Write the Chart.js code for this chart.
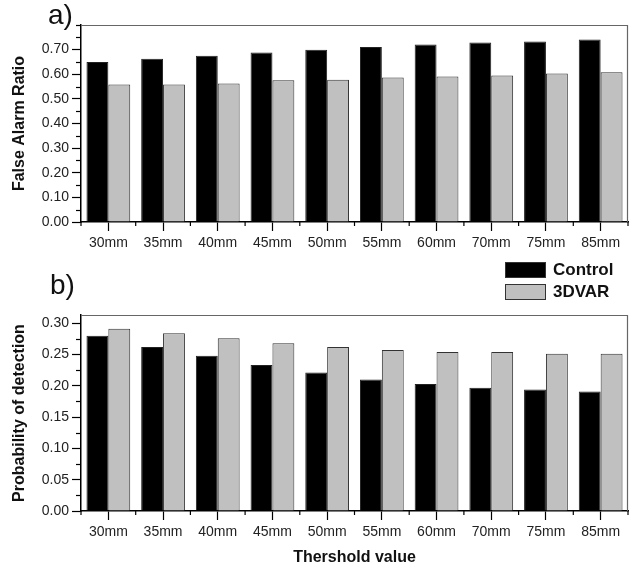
<!DOCTYPE html>
<html>
<head>
<meta charset="utf-8">
<script src="https://cdn.jsdelivr.net/npm/chart.js@4"></script>
<style>
body { margin: 0; background: #fff; font-family: "Liberation Sans", Arial, sans-serif; }
#page { position: relative; width: 634px; height: 569px; overflow: hidden; }
.box { position: absolute; left: 0; width: 634px; }
.tag { position: absolute; font-size: 28px; color: #111; line-height: 1; }
#legend { position: absolute; left: 505px; top: 262px; }
.item { display: flex; align-items: center; height: 15px; margin-bottom: 7px; font-weight: bold; font-size: 17px; color: #111; }
.swatch { width: 39px; height: 14px; border: 1px solid #333; margin-right: 7px; }
</style>
</head>
<body>
<div id="page">
  <div class="box" style="top:0;height:256px"><canvas id="chartA"></canvas></div>
  <div class="box" style="top:256px;height:313px"><canvas id="chartB"></canvas></div>
  <div class="tag" style="left:48px;top:1px">a)</div>
  <div class="tag" style="left:50px;top:271px">b)</div>
  <div id="legend"></div>
</div>
<script>
const thresholds = ["30mm", "35mm", "40mm", "45mm", "50mm", "55mm", "60mm", "70mm", "75mm", "85mm"];
const seriesNames = ["Control", "3DVAR"];
const farControl = [0.650, 0.663, 0.675, 0.688, 0.700, 0.711, 0.721, 0.729, 0.733, 0.741];
const far3dvar = [0.558, 0.558, 0.562, 0.576, 0.578, 0.587, 0.591, 0.595, 0.603, 0.608];
const podControl = [0.280, 0.262, 0.248, 0.233, 0.221, 0.210, 0.203, 0.197, 0.194, 0.191];
const pod3dvar = [0.291, 0.284, 0.276, 0.268, 0.262, 0.257, 0.254, 0.254, 0.251, 0.251];

const colors = ["#000000", "#c0c0c0"];
const font = "'Liberation Sans', Arial, sans-serif";

// grey frame on top/right, short ticks between categories, short minor y ticks
const framePlugin = {
    id: "frame",
    afterDraw(chart) {
        const { ctx, chartArea: { left, top, right, bottom } } = chart;
        ctx.save();
        ctx.strokeStyle = "#666";
        ctx.lineWidth = 1.2;
        ctx.beginPath();
        ctx.moveTo(left, top + 0.5);
        ctx.lineTo(right - 0.5, top + 0.5);
        ctx.lineTo(right - 0.5, bottom);
        ctx.stroke();

        ctx.strokeStyle = "#000";
        ctx.lineWidth = 1.2;
        const x = chart.scales.x;
        const n = x.getLabels().length;
        for (let i = 0; i <= n; i++) {
            const px = x.left + i * x.width / n;
            ctx.beginPath();
            ctx.moveTo(px, bottom);
            ctx.lineTo(px, bottom + 4);
            ctx.stroke();
        }
        const y = chart.scales.y;
        y.ticks.forEach(t => {
            if (t.label !== "") return;
            const py = Math.round(y.getPixelForValue(t.value)) + 0.5;
            ctx.beginPath();
            ctx.moveTo(left, py);
            ctx.lineTo(left - 5, py);
            ctx.stroke();
        });
        ctx.restore();
    }
};

function makeChart(id, a, b, opt) {
    return new Chart(document.getElementById(id), {
        type: "bar",
        data: {
            labels: thresholds,
            datasets: [
                { label: seriesNames[0], data: a, backgroundColor: colors[0], borderColor: "#222", borderWidth: 1 },
                { label: seriesNames[1], data: b, backgroundColor: colors[1], borderColor: "#333", borderWidth: 1 }
            ]
        },
        options: {
            responsive: true,
            maintainAspectRatio: false,
            animation: false,
            layout: { padding: { top: opt.padTop, right: 6, left: 0, bottom: 0 } },
            datasets: { bar: { categoryPercentage: 0.8, barPercentage: 1.0 } },
            plugins: { legend: { display: false }, tooltip: { enabled: false } },
            scales: {
                x: {
                    afterFit: s => { s.height = opt.xHeight; },
                    grid: { drawOnChartArea: false, offset: false, tickLength: 9, color: "#000", tickWidth: 1.2 },
                    border: { color: "#000", width: 1.5 },
                    ticks: { color: "#222", font: { family: font, size: 14 }, padding: 4, maxRotation: 0 },
                    title: {
                        display: !!opt.xTitle, text: opt.xTitle || "", color: "#111",
                        font: { family: font, size: 16, weight: "bold" }, padding: { top: 0, bottom: 2 }
                    }
                },
                y: {
                    min: 0, max: opt.max,
                    afterFit: s => { s.width = 81; },
                    grid: {
                        drawOnChartArea: false, tickLength: 9, tickWidth: 1.2,
                        tickColor: c => (c.tick && c.tick.label === "") ? "rgba(0,0,0,0)" : "#000"
                    },
                    border: { color: "#000", width: 1.5 },
                    ticks: {
                        stepSize: opt.minorStep, autoSkip: false, includeBounds: false,
                        color: "#222", padding: 3,
                        font: { family: font, size: 14 },
                        callback: v => {
                            const r = Math.round(v * 1000) / 1000;
                            if (r > opt.labelMax + 1e-6) return "";
                            const k = r / opt.labelStep;
                            if (Math.abs(k - Math.round(k)) > 1e-6) return "";
                            return r.toFixed(2);
                        }
                    },
                    title: {
                        display: true, text: opt.yTitle, color: "#111",
                        font: { family: font, size: 16, weight: "bold" }, padding: { top: 10, bottom: 0 }
                    }
                }
            }
        },
        plugins: [framePlugin]
    });
}

const chartA = makeChart("chartA", farControl, far3dvar, {
    padTop: 25, xHeight: 34, max: 0.8, minorStep: 0.05, labelStep: 0.1, labelMax: 0.7,
    yTitle: "False Alarm Ratio"
});
const chartB = makeChart("chartB", podControl, pod3dvar, {
    padTop: 59, xHeight: 58, max: 0.313, minorStep: 0.025, labelStep: 0.05, labelMax: 0.3,
    yTitle: "Probability of detection", xTitle: "Thershold value"
});

// legend from the bottom chart's datasets
document.getElementById("legend").innerHTML = chartB.data.datasets.map(d =>
    `<div class="item"><span class="swatch" style="background:${d.backgroundColor}"></span>${d.label}</div>`
).join("");
</script>
</body>
</html>
